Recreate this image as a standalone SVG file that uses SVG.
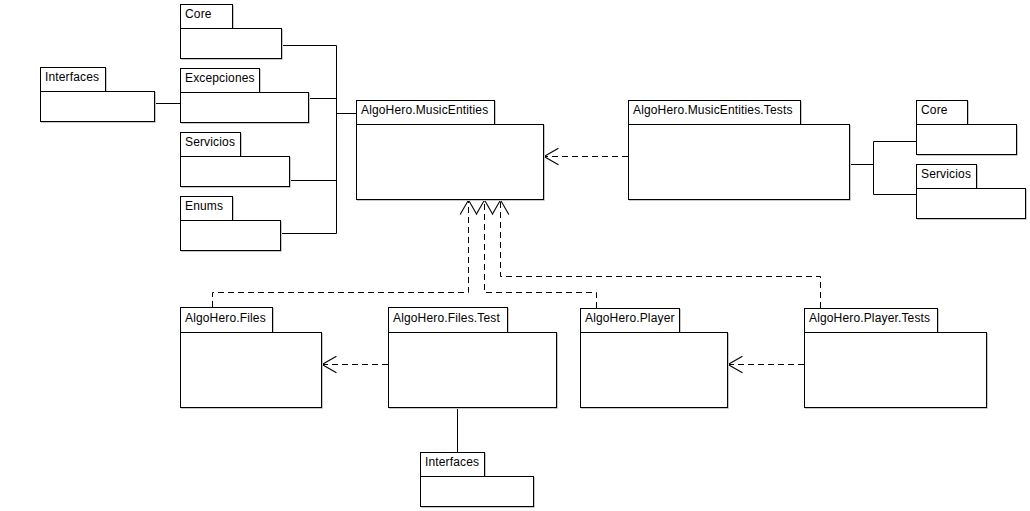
<svg xmlns="http://www.w3.org/2000/svg" width="1030" height="511" viewBox="0 0 1030 511">
  <style>
    .box { fill: #ffffff; stroke: #000000; stroke-width: 1; }
    .sh { fill: none; stroke: #c8c8c8; stroke-width: 1; }
    .lbl { font-family: "Liberation Sans", Arial, sans-serif; font-size: 12px; letter-spacing: 0.15px; fill: #000000; }
    .ln { fill: none; stroke: #000000; stroke-width: 1; }
    .dep { fill: none; stroke: #000000; stroke-width: 1; stroke-dasharray: 6 4; marker-end: url(#open); }
  </style>
  <defs>
    <marker id="open" markerUnits="userSpaceOnUse" markerWidth="20" markerHeight="20" viewBox="-14 -9 16 18" refX="0" refY="0" orient="auto" overflow="visible">
      <path d="M-13,-7.5 L0,0 L-13,7.5" fill="none" stroke="#000000" stroke-width="1"/>
    </marker>
  </defs>
  <rect width="1030" height="511" fill="#ffffff"/>

  <!-- connectors -->
  <g id="connectors">
    <!-- MusicEntities sub-packages -->
    <path class="ln" d="M281,45.5 H336.5 V233.5 H280"/>
    <path class="ln" d="M308,98.5 H336.5"/>
    <path class="ln" d="M289,180.5 H336.5"/>
    <path class="ln" d="M336.5,113.5 H356"/>
    <path class="ln" d="M154,103.5 H180"/>
    <!-- Tests sub-packages -->
    <path class="ln" d="M849,164.5 H873.5"/>
    <path class="ln" d="M916,141.5 H873.5 V194.5 H916"/>
    <!-- Files.Test to Interfaces -->
    <path class="ln" d="M457.5,407 V452"/>
    <!-- dependencies -->
    <path class="dep" d="M628,156.5 H544"/>
    <path class="dep" d="M212.5,307 V292.5 H468.5 V200"/>
    <path class="dep" d="M596.5,308 V292.5 H484.5 V200"/>
    <path class="dep" d="M820.5,308 V276.5 H500.5 V200"/>
    <path class="dep" d="M388,364.5 H322"/>
    <path class="dep" d="M804,364.5 H728"/>
  </g>

  <g id="core-left">
    <path class="sh" d="M233.5,5 V28 M282.5,29 V59.5 H181"/>
    <rect class="box" x="180.5" y="4.5" width="52" height="24"/>
    <rect class="box" x="180.5" y="28.5" width="101" height="30"/>
    <text class="lbl" x="185" y="18">Core</text>
  </g>
  <g id="interfaces-left">
    <path class="sh" d="M106.5,68 V91 M155.5,92 V122.5 H41"/>
    <rect class="box" x="40.5" y="67.5" width="65" height="24"/>
    <rect class="box" x="40.5" y="91.5" width="114" height="30"/>
    <text class="lbl" x="45" y="81">Interfaces</text>
  </g>
  <g id="excepciones">
    <path class="sh" d="M260.5,69 V92 M309.5,93 V123.5 H181"/>
    <rect class="box" x="180.5" y="68.5" width="79" height="24"/>
    <rect class="box" x="180.5" y="92.5" width="128" height="30"/>
    <text class="lbl" x="185" y="82">Excepciones</text>
  </g>
  <g id="servicios-left">
    <path class="sh" d="M241.5,133 V156 M290.5,157 V187.5 H181"/>
    <rect class="box" x="180.5" y="132.5" width="60" height="24"/>
    <rect class="box" x="180.5" y="156.5" width="109" height="30"/>
    <text class="lbl" x="185" y="146">Servicios</text>
  </g>
  <g id="enums">
    <path class="sh" d="M233.5,197 V220 M281.5,221 V251.5 H181"/>
    <rect class="box" x="180.5" y="196.5" width="52" height="24"/>
    <rect class="box" x="180.5" y="220.5" width="100" height="30"/>
    <text class="lbl" x="185" y="210">Enums</text>
  </g>
  <g id="music-entities">
    <path class="sh" d="M495.5,101 V124 M544.5,125 V200.5 H357"/>
    <rect class="box" x="356.5" y="100.5" width="138" height="24"/>
    <rect class="box" x="356.5" y="124.5" width="187" height="75"/>
    <text class="lbl" x="361" y="114">AlgoHero.MusicEntities</text>
  </g>
  <g id="music-entities-tests">
    <path class="sh" d="M801.5,101 V124 M850.5,125 V200.5 H629"/>
    <rect class="box" x="628.5" y="100.5" width="172" height="24"/>
    <rect class="box" x="628.5" y="124.5" width="221" height="75"/>
    <text class="lbl" x="633" y="114">AlgoHero.MusicEntities.Tests</text>
  </g>
  <g id="core-right">
    <path class="sh" d="M968.5,101 V124 M1017.5,125 V155.5 H917"/>
    <rect class="box" x="916.5" y="100.5" width="51" height="24"/>
    <rect class="box" x="916.5" y="124.5" width="100" height="30"/>
    <text class="lbl" x="921" y="114">Core</text>
  </g>
  <g id="servicios-right">
    <path class="sh" d="M977.5,165 V188 M1026.5,189 V219.5 H917"/>
    <rect class="box" x="916.5" y="164.5" width="60" height="24"/>
    <rect class="box" x="916.5" y="188.5" width="109" height="30"/>
    <text class="lbl" x="921" y="178">Servicios</text>
  </g>
  <g id="files">
    <path class="sh" d="M273.5,308 V332 M322.5,333 V408.5 H181"/>
    <rect class="box" x="180.5" y="307.5" width="92" height="25"/>
    <rect class="box" x="180.5" y="332.5" width="141" height="75"/>
    <text class="lbl" x="185" y="322">AlgoHero.Files</text>
  </g>
  <g id="files-test">
    <path class="sh" d="M508.5,308 V332 M557.5,333 V408.5 H389"/>
    <rect class="box" x="388.5" y="307.5" width="119" height="25"/>
    <rect class="box" x="388.5" y="332.5" width="168" height="75"/>
    <text class="lbl" x="393" y="322">AlgoHero.Files.Test</text>
  </g>
  <g id="player">
    <path class="sh" d="M680.5,309 V332 M728.5,333 V408.5 H581"/>
    <rect class="box" x="580.5" y="308.5" width="99" height="24"/>
    <rect class="box" x="580.5" y="332.5" width="147" height="75"/>
    <text class="lbl" x="585" y="322">AlgoHero.Player</text>
  </g>
  <g id="player-tests">
    <path class="sh" d="M938.5,309 V332 M987.5,333 V408.5 H805"/>
    <rect class="box" x="804.5" y="308.5" width="133" height="24"/>
    <rect class="box" x="804.5" y="332.5" width="182" height="75"/>
    <text class="lbl" x="809" y="322">AlgoHero.Player.Tests</text>
  </g>
  <g id="interfaces-bottom">
    <path class="sh" d="M485.5,453 V476 M534.5,477 V507.5 H421"/>
    <rect class="box" x="420.5" y="452.5" width="64" height="24"/>
    <rect class="box" x="420.5" y="476.5" width="113" height="30"/>
    <text class="lbl" x="425" y="466">Interfaces</text>
  </g>
</svg>
